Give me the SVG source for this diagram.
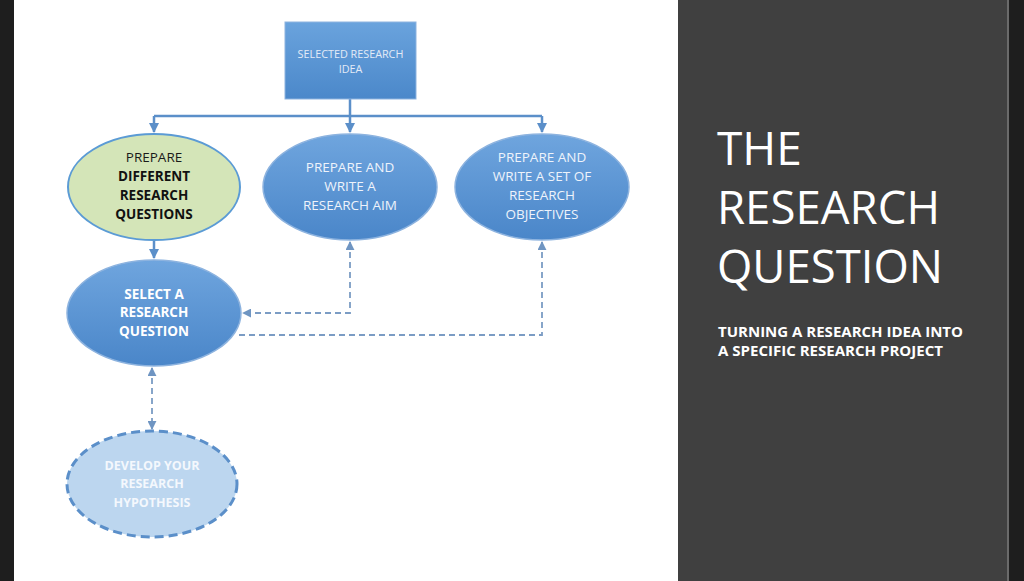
<svg xmlns="http://www.w3.org/2000/svg" width="1024" height="581" viewBox="0 0 1024 581">
<defs>
<linearGradient id="gBlue" x1="0" y1="0" x2="0" y2="1">
<stop offset="0" stop-color="#6fa5de"/>
<stop offset="1" stop-color="#4a86c9"/>
</linearGradient>
<linearGradient id="gRect" x1="0" y1="0" x2="0" y2="1">
<stop offset="0" stop-color="#6aa3dd"/>
<stop offset="1" stop-color="#4b88ca"/>
</linearGradient>
<marker id="ah" viewBox="0 0 10 10" refX="9" refY="5" markerWidth="4" markerHeight="4" orient="auto-start-reverse">
<path d="M0,0 L10,5 L0,10 z" fill="#5b8fc9"/>
</marker>
<marker id="ahd" viewBox="0 0 10 10" refX="9" refY="5" markerWidth="5" markerHeight="5" orient="auto-start-reverse">
<path d="M0,0 L10,5 L0,10 z" fill="#6f95c2"/>
</marker>
</defs>
<style>
.solid{fill:none;stroke:#5b8fc9;stroke-width:2.5}
.dash{fill:none;stroke:#7b9cc4;stroke-width:1.8;stroke-dasharray:6 4}
.t{font-family:"Open Sans","Liberation Sans",sans-serif;text-anchor:middle}
.nl{font-size:13.5px;fill:#eef3fb}
.nb{font-size:13.5px;fill:#ffffff;font-weight:bold}
.blue{fill:url(#gBlue);stroke:#8db3df;stroke-width:1.5}
</style>
<rect x="0" y="0" width="1024" height="581" fill="#1e1e1e"/>
<rect x="14" y="0" width="664" height="581" fill="#ffffff"/>
<rect x="678" y="0" width="330" height="581" fill="#404040"/>
<rect x="1007" y="0" width="2" height="581" fill="#6a6a6a"/>

<g id="connectors">
<path class="solid" d="M350,99 V116 M154,116 H542"/>
<path class="solid" d="M154,116 V132" marker-end="url(#ah)"/>
<path class="solid" d="M350,116 V132" marker-end="url(#ah)"/>
<path class="solid" d="M542,116 V132" marker-end="url(#ah)"/>
<path class="solid" d="M154,240 V258" marker-end="url(#ah)"/>
<path class="dash" d="M350,242 V313 H243" marker-start="url(#ahd)" marker-end="url(#ahd)"/>
<path class="dash" d="M542,242 V335 H236" marker-start="url(#ahd)"/>
<path class="dash" d="M152,368 V429" marker-start="url(#ahd)" marker-end="url(#ahd)"/>
</g>

<g id="node-idea">
<rect x="285" y="22" width="131" height="77" fill="url(#gRect)" stroke="#8db3df" stroke-width="1"/>
<text class="t" x="350.5" y="58" font-size="10.8" fill="#e3ebf7">SELECTED RESEARCH</text>
<text class="t" x="350.5" y="73" font-size="10.8" fill="#e3ebf7">IDEA</text>
</g>

<g id="node-questions">
<ellipse cx="154" cy="187" rx="86" ry="53" fill="#d4e5b8" stroke="#5b9bd5" stroke-width="2"/>
<text class="t" x="154" y="162" font-size="13.5" fill="#1a1a1a">PREPARE</text>
<text class="t" x="154" y="181" font-size="13.5" font-weight="bold" fill="#111">DIFFERENT</text>
<text class="t" x="154" y="200" font-size="13.5" font-weight="bold" fill="#111">RESEARCH</text>
<text class="t" x="154" y="219" font-size="13.5" font-weight="bold" fill="#111">QUESTIONS</text>
</g>

<g id="node-aim">
<ellipse class="blue" cx="350" cy="187" rx="87" ry="53"/>
<text class="t nl" x="350" y="172">PREPARE AND</text>
<text class="t nl" x="350" y="191">WRITE  A</text>
<text class="t nl" x="350" y="210">RESEARCH AIM</text>
</g>

<g id="node-objectives">
<ellipse class="blue" cx="542" cy="187" rx="87" ry="53"/>
<text class="t nl" x="542" y="162">PREPARE AND</text>
<text class="t nl" x="542" y="181">WRITE  A SET OF</text>
<text class="t nl" x="542" y="200">RESEARCH</text>
<text class="t nl" x="542" y="219">OBJECTIVES</text>
</g>

<g id="node-select">
<ellipse class="blue" cx="154" cy="313" rx="87" ry="53"/>
<text class="t nb" x="154" y="299">SELECT A</text>
<text class="t nb" x="154" y="317">RESEARCH</text>
<text class="t nb" x="154" y="336">QUESTION</text>
</g>

<g id="node-hypothesis">
<ellipse cx="152" cy="484" rx="85" ry="53" fill="#bcd6ef" stroke="#5b8fc9" stroke-width="3" stroke-dasharray="9 5"/>
<text class="t" x="152" y="470" font-size="12.5" font-weight="bold" fill="#f4f8fd">DEVELOP YOUR</text>
<text class="t" x="152" y="488" font-size="12.5" font-weight="bold" fill="#f4f8fd">RESEARCH</text>
<text class="t" x="152" y="507" font-size="12.5" font-weight="bold" fill="#f4f8fd">HYPOTHESIS</text>
</g>

<g id="title">
<text x="717" y="165" font-family="Open Sans,Liberation Sans,sans-serif" font-size="46" fill="#ffffff">THE</text>
<text x="717" y="224" font-family="Open Sans,Liberation Sans,sans-serif" font-size="46" fill="#ffffff" textLength="223" lengthAdjust="spacingAndGlyphs">RESEARCH</text>
<text x="717" y="283" font-family="Open Sans,Liberation Sans,sans-serif" font-size="46" fill="#ffffff" textLength="226" lengthAdjust="spacingAndGlyphs">QUESTION</text>
<text x="718" y="337" font-family="Open Sans,Liberation Sans,sans-serif" font-size="13.5" font-weight="bold" fill="#ffffff" textLength="245" lengthAdjust="spacingAndGlyphs">TURNING A RESEARCH IDEA INTO</text>
<text x="718" y="356" font-family="Open Sans,Liberation Sans,sans-serif" font-size="13.5" font-weight="bold" fill="#ffffff" textLength="225" lengthAdjust="spacingAndGlyphs">A SPECIFIC RESEARCH PROJECT</text>
</g>
</svg>
